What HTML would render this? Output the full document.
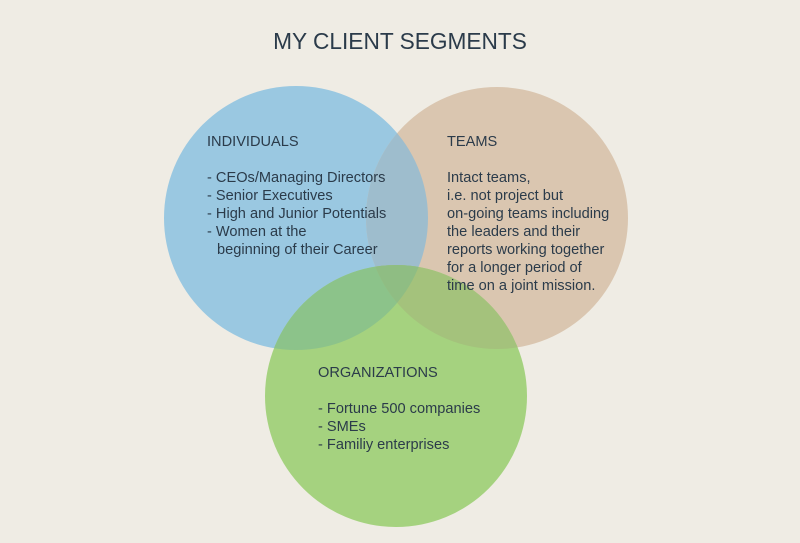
<!DOCTYPE html>
<html><head><style>
body{margin:0;background:#efece4;}
svg{display:block}
text{font-family:"Liberation Sans",sans-serif;fill:#2b3b4a;font-size:14.6px}
</style></head><body>
<svg width="800" height="543" viewBox="0 0 800 543">
<defs>
<clipPath id="cb"><circle cx="296" cy="218" r="132"/></clipPath>
<clipPath id="ct"><circle cx="497" cy="218" r="131"/></clipPath>
<clipPath id="cg"><circle cx="396" cy="396" r="131"/></clipPath>
</defs>
<rect width="800" height="543" fill="#efece4"/>
<circle cx="296" cy="218" r="132" fill="#9ac8e1"/>
<circle cx="497" cy="218" r="131" fill="#dac6b0"/>
<circle cx="396" cy="396" r="131" fill="#a5d27f"/>
<g clip-path="url(#cb)"><circle cx="497" cy="218" r="131" fill="#9ebdcd"/></g>
<g clip-path="url(#cb)"><circle cx="396" cy="396" r="131" fill="#8cc38a"/></g>
<g clip-path="url(#ct)"><circle cx="396" cy="396" r="131" fill="#a4c27c"/></g>
<g clip-path="url(#cb)"><g clip-path="url(#ct)"><circle cx="396" cy="396" r="131" fill="#8fbd83"/></g></g>
<text x="400" y="49" text-anchor="middle" style="font-size:22.7px">MY CLIENT SEGMENTS</text>
<text x="207" y="146">INDIVIDUALS</text>
<text x="207" y="182">- CEOs/Managing Directors</text>
<text x="207" y="200">- Senior Executives</text>
<text x="207" y="218">- High and Junior Potentials</text>
<text x="207" y="236">- Women at the</text>
<text x="217" y="254">beginning of their Career</text>
<text x="447" y="146">TEAMS</text>
<text x="447" y="182">Intact teams,</text>
<text x="447" y="200">i.e. not project but</text>
<text x="447" y="218">on-going teams including</text>
<text x="447" y="236">the leaders and their</text>
<text x="447" y="254">reports working together</text>
<text x="447" y="272">for a longer period of</text>
<text x="447" y="290">time on a joint mission.</text>
<text x="318" y="377">ORGANIZATIONS</text>
<text x="318" y="413">- Fortune 500 companies</text>
<text x="318" y="431">- SMEs</text>
<text x="318" y="449">- Familiy enterprises</text>
</svg>
</body></html>
